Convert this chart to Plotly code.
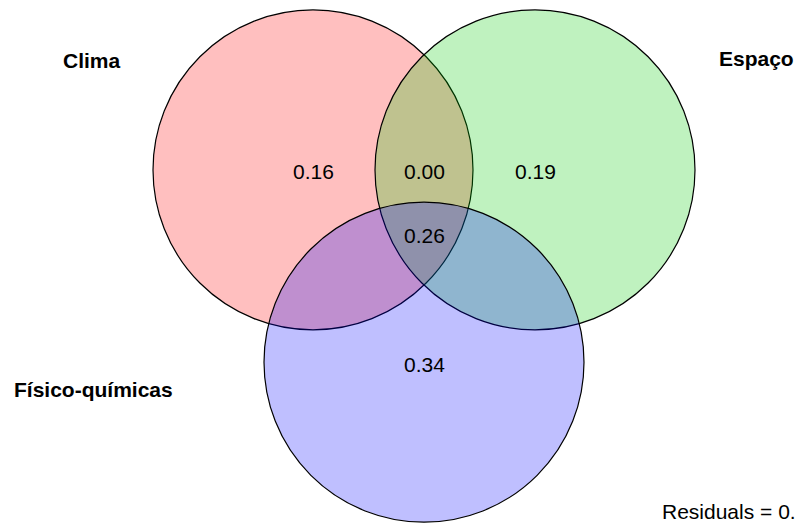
import math
import plotly.graph_objects as go

# Variance partitioning: fractions explained by each group of variables
groups = ["Clima", "Espaço", "Físico-químicas"]
unique_fracs = [0.16, 0.19, 0.34]        # Clima only, Espaço only, Físico-químicas only
shared_clima_espaco = 0.00
shared_all = 0.26
residual_text = "Residuals = 0."

# Diagram geometry (axis units = pixels, y axis pointing down)
W, H = 797, 526
centroid = (424, 234)
side = 222
radius = 160
dist = side / math.sqrt(3)
angles = [210, 330, 90]
centers = [(centroid[0] + dist * math.cos(math.radians(a)),
            centroid[1] + dist * math.sin(math.radians(a))) for a in angles]
fills = ["rgba(255,0,0,0.25)", "rgba(0,205,0,0.25)", "rgba(0,0,255,0.25)"]

fig = go.Figure()

shapes = []
for (cx, cy), col in zip(centers, fills):
    shapes.append(dict(type="circle", xref="x", yref="y",
                       x0=cx - radius, x1=cx + radius,
                       y0=cy - radius, y1=cy + radius,
                       fillcolor=col, line=dict(color="black", width=1.2),
                       layer="above"))

font_num = dict(family="Liberation Sans, Arial, sans-serif", size=21, color="black")
font_lab = dict(family="Liberation Sans, Arial, sans-serif", size=21, color="black")

annotations = []
# unique fractions at circle centres
for (cx, cy), v in zip(centers, unique_fracs):
    annotations.append(dict(x=cx, y=cy + 2, text=f"{v:.2f}", showarrow=False,
                            xref="x", yref="y", font=font_num))
# Clima ∩ Espaço
mx = (centers[0][0] + centers[1][0]) / 2
my = (centers[0][1] + centers[1][1]) / 2
annotations.append(dict(x=mx, y=my + 2, text=f"{shared_clima_espaco:.2f}", showarrow=False,
                        xref="x", yref="y", font=font_num))
# all three
annotations.append(dict(x=centroid[0], y=centroid[1] + 1, text=f"{shared_all:.2f}", showarrow=False,
                        xref="x", yref="y", font=font_num))

# group labels
label_pos = [(92, 60), (756, 58), (93, 389)]
for name, (lx, ly) in zip(groups, label_pos):
    annotations.append(dict(x=lx, y=ly, text=f"<b>{name}</b>", showarrow=False,
                            xref="x", yref="y", font=font_lab))

annotations.append(dict(x=660, y=511, text=residual_text, showarrow=False,
                        xref="x", yref="y", xanchor="left", font=font_num))

fig.update_layout(
    width=W, height=H,
    margin=dict(l=0, r=0, t=0, b=0),
    paper_bgcolor="white", plot_bgcolor="white",
    shapes=shapes, annotations=annotations,
    showlegend=False,
    xaxis=dict(range=[0, W], visible=False, fixedrange=True),
    yaxis=dict(range=[H, 0], visible=False, fixedrange=True),
)

fig.write_html("out.html")
